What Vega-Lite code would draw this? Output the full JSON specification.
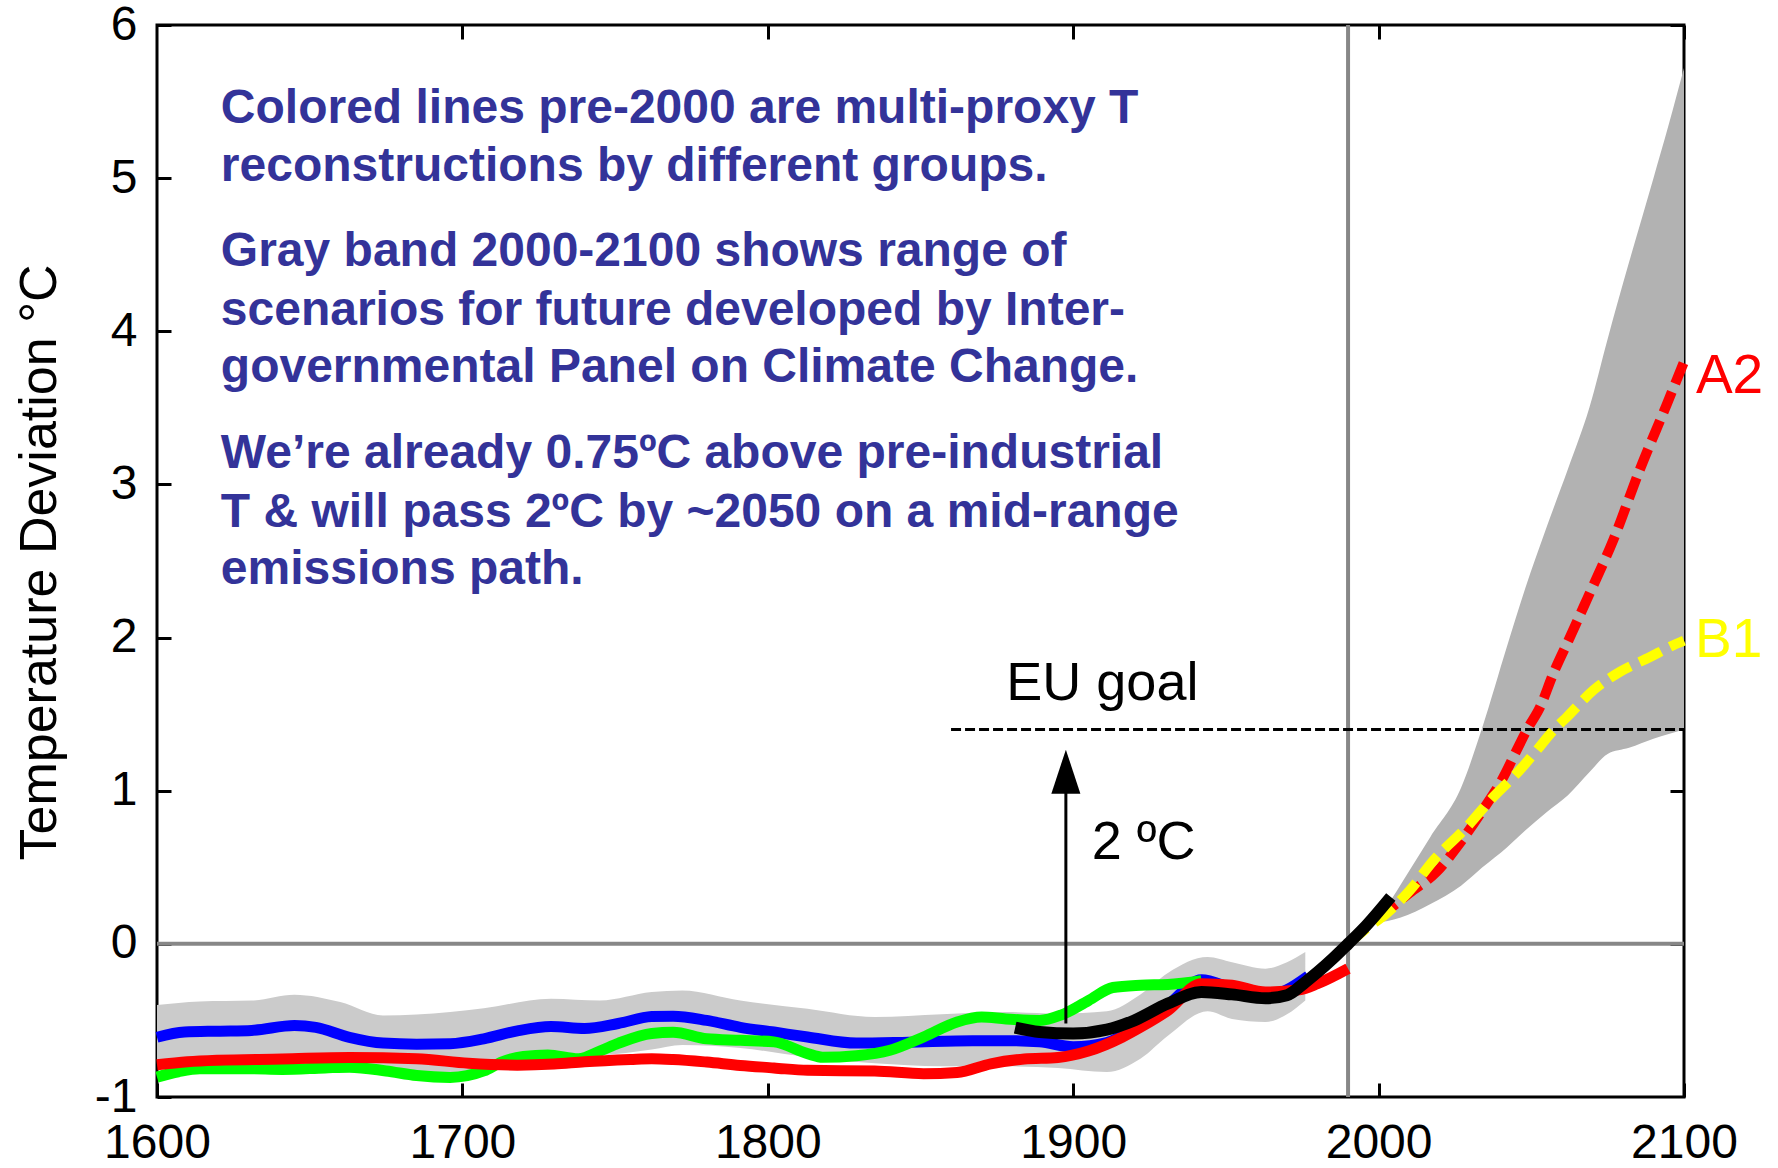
{
  "$schema": "https://vega.github.io/schema/vega-lite/v6.json",
  "width": 1527,
  "height": 1072,
  "autosize": {"type": "none"},
  "padding": {"left": 157, "top": 25, "right": 94, "bottom": 71},
  "background": "white",
  "config": {"view": {"stroke": "black", "strokeWidth": 3}, "font": "Liberation Sans"},
  "datasets": {
    "pastband": [
      {"year": 1600, "hi": -0.40, "lo": -0.78},
      {"year": 1614, "hi": -0.376, "lo": -0.77},
      {"year": 1631, "hi": -0.37, "lo": -0.78},
      {"year": 1645, "hi": -0.332, "lo": -0.78},
      {"year": 1660, "hi": -0.38, "lo": -0.80},
      {"year": 1674, "hi": -0.467, "lo": -0.83},
      {"year": 1696, "hi": -0.445, "lo": -0.85},
      {"year": 1707, "hi": -0.42, "lo": -0.80},
      {"year": 1729, "hi": -0.358, "lo": -0.75},
      {"year": 1745, "hi": -0.37, "lo": -0.73},
      {"year": 1762, "hi": -0.315, "lo": -0.69},
      {"year": 1772, "hi": -0.304, "lo": -0.66},
      {"year": 1791, "hi": -0.37, "lo": -0.68},
      {"year": 1813, "hi": -0.424, "lo": -0.74},
      {"year": 1835, "hi": -0.478, "lo": -0.78},
      {"year": 1857, "hi": -0.46, "lo": -0.80},
      {"year": 1878, "hi": -0.445, "lo": -0.80},
      {"year": 1895, "hi": -0.455, "lo": -0.81},
      {"year": 1911, "hi": -0.44, "lo": -0.837},
      {"year": 1922, "hi": -0.33, "lo": -0.75},
      {"year": 1931, "hi": -0.19, "lo": -0.60},
      {"year": 1944, "hi": -0.086, "lo": -0.44},
      {"year": 1952, "hi": -0.12, "lo": -0.49},
      {"year": 1963, "hi": -0.162, "lo": -0.51},
      {"year": 1970, "hi": -0.12, "lo": -0.46},
      {"year": 1976, "hi": -0.053, "lo": -0.37}
    ],
    "futband": [
      {"year": 2000, "hi": 0.14, "lo": 0.14},
      {"year": 2003, "hi": 0.25, "lo": 0.15},
      {"year": 2007, "hi": 0.38, "lo": 0.17},
      {"year": 2017, "hi": 0.70, "lo": 0.26},
      {"year": 2027, "hi": 1.02, "lo": 0.38},
      {"year": 2034, "hi": 1.416, "lo": 0.50},
      {"year": 2042, "hi": 1.94, "lo": 0.63},
      {"year": 2048, "hi": 2.32, "lo": 0.74},
      {"year": 2055, "hi": 2.72, "lo": 0.86},
      {"year": 2062, "hi": 3.1, "lo": 0.97},
      {"year": 2069, "hi": 3.5, "lo": 1.12},
      {"year": 2075, "hi": 3.95, "lo": 1.24},
      {"year": 2082, "hi": 4.45, "lo": 1.28},
      {"year": 2090, "hi": 5.0, "lo": 1.34},
      {"year": 2095, "hi": 5.35, "lo": 1.37},
      {"year": 2100, "hi": 5.72, "lo": 1.40}
    ],
    "blue": [
      {"year": 1600, "t": -0.61}, {"year": 1609, "t": -0.576}, {"year": 1620, "t": -0.57},
      {"year": 1631, "t": -0.565}, {"year": 1645, "t": -0.533}, {"year": 1652, "t": -0.545},
      {"year": 1663, "t": -0.61}, {"year": 1674, "t": -0.648}, {"year": 1685, "t": -0.655},
      {"year": 1696, "t": -0.652}, {"year": 1707, "t": -0.62}, {"year": 1718, "t": -0.568},
      {"year": 1729, "t": -0.54}, {"year": 1740, "t": -0.552}, {"year": 1751, "t": -0.52},
      {"year": 1762, "t": -0.475}, {"year": 1769, "t": -0.472}, {"year": 1780, "t": -0.50},
      {"year": 1791, "t": -0.545}, {"year": 1802, "t": -0.576}, {"year": 1813, "t": -0.608},
      {"year": 1829, "t": -0.648}, {"year": 1846, "t": -0.642}, {"year": 1867, "t": -0.632},
      {"year": 1878, "t": -0.632}, {"year": 1889, "t": -0.64}, {"year": 1900, "t": -0.672},
      {"year": 1911, "t": -0.645}, {"year": 1920, "t": -0.55}, {"year": 1931, "t": -0.40},
      {"year": 1942, "t": -0.235}, {"year": 1952, "t": -0.29}, {"year": 1963, "t": -0.345},
      {"year": 1970, "t": -0.30}, {"year": 1977, "t": -0.21}
    ],
    "green": [
      {"year": 1600, "t": -0.87}, {"year": 1607, "t": -0.835}, {"year": 1614, "t": -0.815},
      {"year": 1630, "t": -0.815}, {"year": 1641, "t": -0.82}, {"year": 1655, "t": -0.81},
      {"year": 1663, "t": -0.805}, {"year": 1675, "t": -0.83}, {"year": 1685, "t": -0.86},
      {"year": 1696, "t": -0.872}, {"year": 1707, "t": -0.83}, {"year": 1713, "t": -0.77},
      {"year": 1720, "t": -0.735}, {"year": 1728, "t": -0.725}, {"year": 1738, "t": -0.75},
      {"year": 1745, "t": -0.70}, {"year": 1751, "t": -0.65}, {"year": 1762, "t": -0.585},
      {"year": 1769, "t": -0.578}, {"year": 1780, "t": -0.62}, {"year": 1791, "t": -0.63},
      {"year": 1802, "t": -0.64}, {"year": 1813, "t": -0.717}, {"year": 1818, "t": -0.74},
      {"year": 1829, "t": -0.73}, {"year": 1840, "t": -0.695}, {"year": 1851, "t": -0.608},
      {"year": 1862, "t": -0.51}, {"year": 1870, "t": -0.478}, {"year": 1878, "t": -0.49},
      {"year": 1889, "t": -0.50}, {"year": 1896, "t": -0.465}, {"year": 1905, "t": -0.37},
      {"year": 1913, "t": -0.285}, {"year": 1922, "t": -0.27}, {"year": 1931, "t": -0.265},
      {"year": 1942, "t": -0.24}
    ],
    "red": [
      {"year": 1600, "t": -0.79}, {"year": 1610, "t": -0.77}, {"year": 1620, "t": -0.76},
      {"year": 1641, "t": -0.752}, {"year": 1663, "t": -0.742}, {"year": 1685, "t": -0.75},
      {"year": 1702, "t": -0.78}, {"year": 1718, "t": -0.792}, {"year": 1730, "t": -0.785},
      {"year": 1740, "t": -0.77}, {"year": 1755, "t": -0.755}, {"year": 1762, "t": -0.75},
      {"year": 1769, "t": -0.755}, {"year": 1780, "t": -0.772}, {"year": 1791, "t": -0.794},
      {"year": 1802, "t": -0.81}, {"year": 1813, "t": -0.826}, {"year": 1835, "t": -0.83},
      {"year": 1851, "t": -0.848}, {"year": 1862, "t": -0.84}, {"year": 1873, "t": -0.783},
      {"year": 1884, "t": -0.752}, {"year": 1895, "t": -0.742}, {"year": 1905, "t": -0.70},
      {"year": 1916, "t": -0.61}, {"year": 1922, "t": -0.545}, {"year": 1931, "t": -0.435},
      {"year": 1942, "t": -0.26}, {"year": 1952, "t": -0.27}, {"year": 1963, "t": -0.315},
      {"year": 1974, "t": -0.30}, {"year": 1980, "t": -0.26}, {"year": 1990, "t": -0.162}
    ],
    "black": [
      {"year": 1881, "t": -0.547}, {"year": 1889, "t": -0.575}, {"year": 1900, "t": -0.585},
      {"year": 1911, "t": -0.56}, {"year": 1920, "t": -0.50}, {"year": 1931, "t": -0.39},
      {"year": 1942, "t": -0.315}, {"year": 1952, "t": -0.33}, {"year": 1963, "t": -0.355},
      {"year": 1970, "t": -0.335}, {"year": 1976, "t": -0.25}, {"year": 1985, "t": -0.097},
      {"year": 1990, "t": 0.0}, {"year": 1996, "t": 0.12}, {"year": 2004, "t": 0.306}
    ],
    "a2": [
      {"year": 2000, "t": 0.17}, {"year": 2010, "t": 0.33}, {"year": 2019, "t": 0.47},
      {"year": 2026.7, "t": 0.66}, {"year": 2034.3, "t": 0.88}, {"year": 2040.9, "t": 1.09},
      {"year": 2045.2, "t": 1.264}, {"year": 2048.5, "t": 1.395}, {"year": 2052.9, "t": 1.547},
      {"year": 2057.2, "t": 1.765}, {"year": 2062.7, "t": 2.004}, {"year": 2068.1, "t": 2.244},
      {"year": 2076.9, "t": 2.64}, {"year": 2085.6, "t": 3.10}, {"year": 2094.3, "t": 3.52},
      {"year": 2100, "t": 3.80}
    ],
    "b1": [
      {"year": 1990, "t": 0.0}, {"year": 1996, "t": 0.1}, {"year": 2002.7, "t": 0.2},
      {"year": 2010.3, "t": 0.351}, {"year": 2018, "t": 0.545}, {"year": 2028.9, "t": 0.763},
      {"year": 2036.5, "t": 0.937}, {"year": 2046.3, "t": 1.136}, {"year": 2051.8, "t": 1.264},
      {"year": 2057.2, "t": 1.394}, {"year": 2061.6, "t": 1.48}, {"year": 2070.3, "t": 1.656},
      {"year": 2079, "t": 1.776}, {"year": 2088.9, "t": 1.873}, {"year": 2096.5, "t": 1.95},
      {"year": 2100, "t": 1.98}
    ],
    "notes": [
      {"year": 1620.9, "t": 5.358, "text": "Colored lines pre-2000 are multi-proxy T"},
      {"year": 1620.9, "t": 4.984, "text": "reconstructions by different groups."},
      {"year": 1620.9, "t": 4.425, "text": "Gray band 2000-2100 shows range of"},
      {"year": 1620.9, "t": 4.04, "text": "scenarios for future developed by Inter-"},
      {"year": 1620.9, "t": 3.667, "text": "governmental Panel on Climate Change."},
      {"year": 1620.9, "t": 3.105, "text": "We’re already 0.75ºC above pre-industrial"},
      {"year": 1620.9, "t": 2.722, "text": "T & will pass 2ºC by ~2050 on a mid-range"},
      {"year": 1620.9, "t": 2.348, "text": "emissions path."}
    ]
  },
  "resolve": {"axis": {"x": "independent", "y": "independent"}},
  "layer": [
    {
      "data": {"name": "pastband"},
      "mark": {"type": "area", "color": "#cbcbcb", "interpolate": "monotone", "opacity": 1},
      "encoding": {
        "x": {"field": "year", "type": "quantitative", "scale": {"domain": [1600, 2100], "nice": false, "zero": false}, "axis": null},
        "y": {"field": "hi", "type": "quantitative", "scale": {"domain": [-1, 6], "nice": false, "zero": false}, "axis": null},
        "y2": {"field": "lo"}
      }
    },
    {
      "data": {"name": "futband"},
      "mark": {"type": "area", "color": "#b2b2b2", "interpolate": "monotone", "opacity": 1},
      "encoding": {
        "x": {"field": "year", "type": "quantitative", "axis": null},
        "y": {"field": "hi", "type": "quantitative", "axis": null},
        "y2": {"field": "lo"}
      }
    },
    {
      "data": {"values": [{"year": 1600, "t": 0}, {"year": 2100, "t": 0}]},
      "mark": {"type": "line", "color": "#878787", "strokeWidth": 4},
      "encoding": {
        "x": {"field": "year", "type": "quantitative",
          "axis": {"orient": "bottom", "values": [1600, 1700, 1800, 1900, 2000, 2100], "format": "d",
            "domain": false, "grid": false, "title": null, "tickSize": -14, "tickWidth": 3, "tickColor": "black",
            "labelPadding": 36, "labelFontSize": 48, "labelFont": "Liberation Sans", "labelColor": "black", "labelFlush": false}},
        "y": {"field": "t", "type": "quantitative",
          "axis": {"orient": "left", "values": [-1, 0, 1, 2, 3, 4, 5, 6], "format": "d",
            "labelExpr": "datum.value < 0 ? '-' + abs(datum.value) : datum.label",
            "domain": false, "grid": false, "tickSize": -14, "tickWidth": 3, "tickColor": "black",
            "labelPadding": 34, "labelFontSize": 48, "labelFont": "Liberation Sans", "labelColor": "black", "labelFlush": false,
            "title": "Temperature Deviation °C", "titleFontSize": 52, "titleFont": "Liberation Sans", "titleFontWeight": "normal",
            "titleColor": "black", "titleAngle": 270, "titleX": -118, "titleY": 537, "titleAlign": "center", "titleBaseline": "middle"}}
      }
    },
    {
      "data": {"values": [{"year": 1990, "t": -1}, {"year": 1990, "t": 6}]},
      "mark": {"type": "line", "color": "#878787", "strokeWidth": 4},
      "encoding": {
        "x": {"field": "year", "type": "quantitative",
          "axis": {"orient": "top", "values": [1700, 1800, 1900, 2000, 2100], "labels": false,
            "domain": false, "grid": false, "title": null, "tickSize": -14, "tickWidth": 3, "tickColor": "black"}},
        "y": {"field": "t", "type": "quantitative",
          "axis": {"orient": "right", "values": [0, 1, 2, 3, 4, 5, 6], "labels": false,
            "domain": false, "grid": false, "title": null, "tickSize": -14, "tickWidth": 3, "tickColor": "black"}}
      }
    },
    {
      "data": {"values": [{"year": 1860, "t": 1.40}, {"year": 2100, "t": 1.40}]},
      "mark": {"type": "line", "color": "black", "strokeWidth": 3, "strokeDash": [10, 4]},
      "encoding": {
        "x": {"field": "year", "type": "quantitative", "axis": null},
        "y": {"field": "t", "type": "quantitative", "axis": null}
      }
    },
    {
      "data": {"name": "blue"},
      "mark": {"type": "line", "color": "#0000ff", "strokeWidth": 11, "interpolate": "monotone"},
      "encoding": {
        "x": {"field": "year", "type": "quantitative", "axis": null},
        "y": {"field": "t", "type": "quantitative", "axis": null}
      }
    },
    {
      "data": {"name": "green"},
      "mark": {"type": "line", "color": "#00ff00", "strokeWidth": 11, "interpolate": "monotone"},
      "encoding": {
        "x": {"field": "year", "type": "quantitative", "axis": null},
        "y": {"field": "t", "type": "quantitative", "axis": null}
      }
    },
    {
      "data": {"name": "red"},
      "mark": {"type": "line", "color": "#ff0000", "strokeWidth": 11, "interpolate": "monotone"},
      "encoding": {
        "x": {"field": "year", "type": "quantitative", "axis": null},
        "y": {"field": "t", "type": "quantitative", "axis": null}
      }
    },
    {
      "data": {"name": "a2"},
      "mark": {"type": "line", "color": "#ff0000", "strokeWidth": 10, "strokeDash": [22, 9], "interpolate": "monotone"},
      "encoding": {
        "x": {"field": "year", "type": "quantitative", "axis": null},
        "y": {"field": "t", "type": "quantitative", "axis": null}
      }
    },
    {
      "data": {"name": "b1"},
      "mark": {"type": "line", "color": "#ffff00", "strokeWidth": 10, "strokeDash": [24, 10], "interpolate": "monotone"},
      "encoding": {
        "x": {"field": "year", "type": "quantitative", "axis": null},
        "y": {"field": "t", "type": "quantitative", "axis": null}
      }
    },
    {
      "data": {"name": "black"},
      "mark": {"type": "line", "color": "#000000", "strokeWidth": 12, "interpolate": "monotone"},
      "encoding": {
        "x": {"field": "year", "type": "quantitative", "axis": null},
        "y": {"field": "t", "type": "quantitative", "axis": null}
      }
    },
    {
      "data": {"values": [{"year": 1897.6, "t": -0.52}, {"year": 1897.6, "t": 1.0}]},
      "mark": {"type": "line", "color": "black", "strokeWidth": 3},
      "encoding": {
        "x": {"field": "year", "type": "quantitative", "axis": null},
        "y": {"field": "t", "type": "quantitative", "axis": null}
      }
    },
    {
      "data": {"values": [{"year": 1897.6, "t": 1.1245}]},
      "mark": {"type": "point", "shape": "M0,-1L0.66,1L-0.66,1Z", "size": 1936, "filled": true, "color": "black", "opacity": 1, "strokeWidth": 0},
      "encoding": {
        "x": {"field": "year", "type": "quantitative", "axis": null},
        "y": {"field": "t", "type": "quantitative", "axis": null}
      }
    },
    {
      "data": {"name": "notes"},
      "mark": {"type": "text", "align": "left", "baseline": "alphabetic", "font": "Liberation Sans", "fontWeight": "bold", "fontSize": 48, "color": "#333399"},
      "encoding": {
        "x": {"field": "year", "type": "quantitative", "axis": null},
        "y": {"field": "t", "type": "quantitative", "axis": null},
        "text": {"field": "text"}
      }
    },
    {
      "data": {"values": [
        {"year": 1878.1, "t": 1.59, "text": "EU goal"},
        {"year": 1906.1, "t": 0.556, "text": "2 ºC"}
      ]},
      "mark": {"type": "text", "align": "left", "baseline": "alphabetic", "font": "Liberation Sans", "fontSize": 54, "color": "black"},
      "encoding": {
        "x": {"field": "year", "type": "quantitative", "axis": null},
        "y": {"field": "t", "type": "quantitative", "axis": null},
        "text": {"field": "text"}
      }
    },
    {
      "data": {"values": [
        {"year": 2103.9, "t": 3.598, "text": "A2", "c": "#ff0000"},
        {"year": 2103.6, "t": 1.875, "text": "B1", "c": "#ffff00"}
      ]},
      "mark": {"type": "text", "align": "left", "baseline": "alphabetic", "font": "Liberation Sans", "fontSize": 55},
      "encoding": {
        "x": {"field": "year", "type": "quantitative", "axis": null},
        "y": {"field": "t", "type": "quantitative", "axis": null},
        "text": {"field": "text"},
        "color": {"field": "c", "type": "nominal", "scale": null}
      }
    }
  ]
}
